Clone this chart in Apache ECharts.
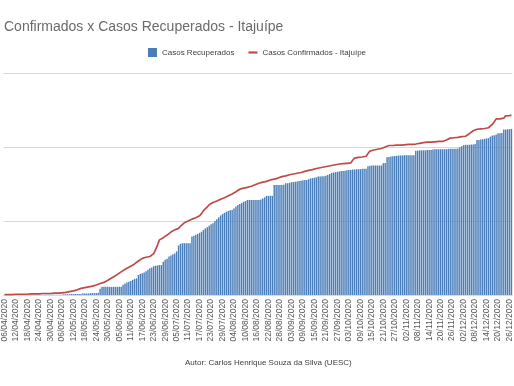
<!DOCTYPE html>
<html>
<head>
<meta charset="utf-8">
<script src="https://cdn.jsdelivr.net/npm/echarts@6/dist/echarts.min.js"></script>
<style>html,body{margin:0;padding:0;background:#fff}#c{width:514px;height:386px}</style>
</head>
<body>
<div id="c"></div>
<script>
// Categories: daily dates starting 06/04/2020
const startDate = [2020, 3, 6];
const dayCount = 266;
const categories = [];
for (let i = 0; i < dayCount; i++) {
  const dt = new Date(Date.UTC(startDate[0], startDate[1], startDate[2] + i));
  const dd = String(dt.getUTCDate()).padStart(2, '0');
  const mm = String(dt.getUTCMonth() + 1).padStart(2, '0');
  categories.push(dd + '/' + mm + '/' + dt.getUTCFullYear());
}

const recovered = [
  0,0,0,0,0,0,0,0,0,0,
  0,0,0,0,1,1,1,1,1,1,
  1,1,1,1,1,1,1,1,1,1,
  1,2,2,2,2,3,3,3,3,3,
  3,4,4,4,4,5,5,5,5,6,
  17,22,22,22,22,22,22,22,22,22,
  22,22,28,31,34,36,38,41,43,45,
  54,57,59,61,64,68,72,74,78,79,
  80,81,81,90,95,98,104,107,110,112,
  118,134,138,140,140,140,140,140,158,160,
  163,165,168,171,176,180,183,187,191,194,
  199,205,210,215,219,222,225,227,229,230,
  234,239,243,246,249,252,254,257,257,257,
  257,257,257,257,258,261,264,268,268,268,
  268,297,297,297,297,297,298,302,302,303,
  305,305,306,307,308,309,310,311,311,313,
  315,316,317,318,320,320,321,321,322,324,
  327,330,331,332,333,334,335,335,336,337,
  338,338,339,339,340,340,340,341,341,341,
  348,349,350,350,350,350,350,350,356,357,
  372,373,374,375,376,376,377,377,377,378,
  378,378,378,378,378,390,390,391,391,391,
  391,392,392,392,393,394,394,394,394,394,
  394,394,395,395,395,395,395,396,399,402,
  405,406,406,406,407,407,408,419,419,420,
  421,422,423,424,428,431,432,434,437,437,
  438,447,447,448,448,449
];

const confirmed = [
  1,1,1,1,1,2,2,2,2,2,
  2,2,2,3,3,3,3,3,3,3,
  4,4,4,4,4,5,5,5,5,6,
  6,7,7,8,9,10,11,12,14,16,
  18,19,20,21,22,23,24,25,27,29,
  31,32,34,37,40,43,46,49,52,55,
  59,63,66,69,72,75,78,81,84,88,
  92,95,99,101,102,103,104,108,112,116,
  135,149,152,155,158,162,166,170,173,176,
  178,180,186,190,195,198,200,203,205,207,
  209,210,214,220,228,233,238,244,247,250,
  252,254,257,259,261,263,265,268,270,273,
  276,279,282,286,288,289,290,291,293,294,
  296,298,300,302,304,305,306,307,309,311,
  312,313,314,316,318,320,321,322,323,325,
  326,327,328,329,330,331,332,334,335,337,
  338,339,340,342,343,344,345,346,347,348,
  349,350,351,352,353,354,355,355,356,356,
  357,357,364,370,371,372,373,373,374,375,
  380,389,390,392,393,394,395,396,398,400,
  403,404,404,404,405,405,405,405,406,406,
  406,407,407,407,408,408,409,410,411,412,
  412,413,413,413,414,414,414,415,415,415,
  416,419,423,424,424,425,425,426,427,428,
  428,429,433,436,440,444,447,448,448,449,
  449,450,450,452,457,461,468,476,476,476,
  476,478,484,485,485,486
];

const yTicks = [0, 200, 400, 600];

const chart = echarts.init(document.getElementById('c'), null, {renderer: 'canvas'});
chart.setOption({
  animation: false,
  backgroundColor: '#ffffff',
  textStyle: {fontFamily: 'Liberation Sans'},
  title: {
    text: 'Confirmados x Casos Recuperados - Itajuípe',
    left: 4, top: 20, padding: 0,
    textStyle: {fontFamily: 'Liberation Sans', fontSize: 14, fontWeight: 'normal', color: '#6b6b6b'}
  },
  legend: {
    top: 48, left: 'center', padding: 0,
    itemWidth: 9, itemHeight: 9, itemGap: 14,
    textStyle: {fontFamily: 'Liberation Sans', fontSize: 8, color: '#404040'},
    data: [
      {name: 'Casos Recuperados', icon: 'rect'},
      {name: 'Casos Confirmados - Itajuípe', icon: 'path://M0,0M0,3.4L9,3.4L9,5.6L0,5.6ZM9,9'}
    ]
  },
  grid: {left: 0, right: -3, top: 73, bottom: 91, containLabel: false},
  xAxis: {
    type: 'category', data: categories,
    axisTick: {show: false},
    axisLine: {lineStyle: {color: '#d9d9d9'}},
    axisLabel: {rotate: 90, interval: 5, fontSize: 8.5, color: '#595959', margin: 4, fontFamily: 'Liberation Sans'}
  },
  yAxis: {
    type: 'value', min: yTicks[0], max: yTicks[yTicks.length - 1], interval: yTicks[1] - yTicks[0],
    axisLabel: {show: false},
    axisLine: {show: false}, axisTick: {show: false},
    splitLine: {lineStyle: {color: '#d9d9d9', width: 1}}
  },
  series: [
    {
      type: 'bar', name: 'Casos Recuperados', data: recovered,
      barCategoryGap: '25%',
      itemStyle: {color: '#4a7ebb'}
    },
    {
      type: 'line', name: 'Casos Confirmados - Itajuípe', data: confirmed,
      symbol: 'none', showSymbol: false,
      lineStyle: {color: '#be4b48', width: 1.7},
      itemStyle: {color: '#be4b48'}
    }
  ],
  graphic: [{
    type: 'text', left: 185, top: 359,
    style: {text: 'Autor: Carlos Henrique Souza da Silva (UESC)', fontSize: 8, fill: '#404040', fontFamily: 'Liberation Sans'}
  }]
});
</script>
</body>
</html>
